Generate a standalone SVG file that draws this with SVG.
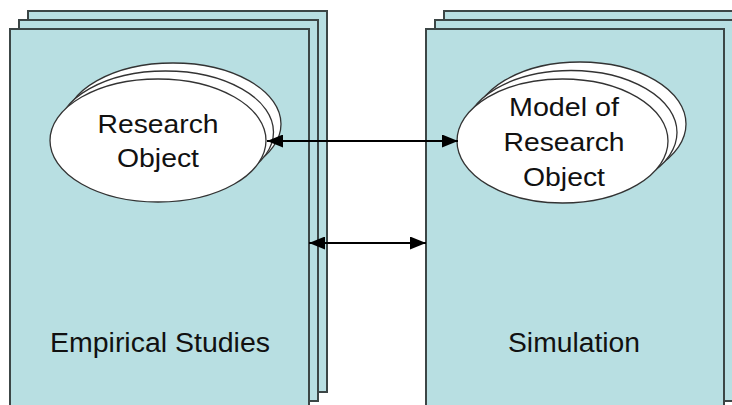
<svg xmlns="http://www.w3.org/2000/svg" width="732" height="405" viewBox="0 0 732 405">
<style>
.pg{fill:#b8dfe2;stroke:#3c4646;stroke-width:2}
.el{fill:#ffffff;stroke:#333333;stroke-width:1.3}
.t{font-family:"Liberation Sans",Arial,sans-serif;fill:#111111;text-anchor:middle}
.c{stroke:#000;stroke-width:2.2;fill:none}
</style>
<defs>
<marker id="ah" viewBox="0 0 16 13" refX="16" refY="6.5" markerWidth="16" markerHeight="13" markerUnits="userSpaceOnUse" orient="auto-start-reverse">
<path d="M0,0 L16,6.5 L0,13 Z" fill="#000"/>
</marker>
</defs>
<rect width="732" height="405" fill="#fff"/>
<g id="empirical">
<rect class="pg" x="28" y="11" width="299" height="381"/>
<rect class="pg" x="19" y="20" width="299" height="381"/>
<rect class="pg" x="10" y="29" width="299" height="390"/>
<text class="t" x="160" y="352" font-size="27" textLength="220" lengthAdjust="spacingAndGlyphs">Empirical Studies</text>
</g>
<g id="simulation">
<rect class="pg" x="444" y="11" width="299" height="381"/>
<rect class="pg" x="435" y="20" width="299" height="381"/>
<rect class="pg" x="426" y="29" width="298" height="390"/>
<text class="t" x="574" y="352" font-size="27" textLength="132" lengthAdjust="spacingAndGlyphs">Simulation</text>
</g>
<g id="research-object">
<ellipse class="el" cx="173" cy="124" rx="108" ry="61"/>
<ellipse class="el" cx="165.5" cy="132" rx="108" ry="61"/>
<ellipse class="el" cx="158" cy="140.5" rx="108" ry="61.5"/>
<text class="t" x="158" y="133" font-size="25" textLength="121" lengthAdjust="spacingAndGlyphs">Research</text>
<text class="t" x="158" y="167" font-size="25" textLength="82" lengthAdjust="spacingAndGlyphs">Object</text>
</g>
<g id="model">
<ellipse class="el" cx="580" cy="124" rx="106" ry="62"/>
<ellipse class="el" cx="571" cy="132.5" rx="106" ry="62"/>
<ellipse class="el" cx="562.5" cy="141" rx="105.5" ry="62"/>
<text class="t" x="564" y="116" font-size="25" textLength="110" lengthAdjust="spacingAndGlyphs">Model of</text>
<text class="t" x="564" y="151" font-size="25" textLength="121" lengthAdjust="spacingAndGlyphs">Research</text>
<text class="t" x="564" y="186" font-size="25" textLength="82" lengthAdjust="spacingAndGlyphs">Object</text>
</g>
<g id="connectors">
<line class="c" x1="267" y1="141" x2="458" y2="141" marker-start="url(#ah)" marker-end="url(#ah)"/>
<line class="c" x1="309" y1="243" x2="426" y2="243" marker-start="url(#ah)" marker-end="url(#ah)"/>
</g>
</svg>
